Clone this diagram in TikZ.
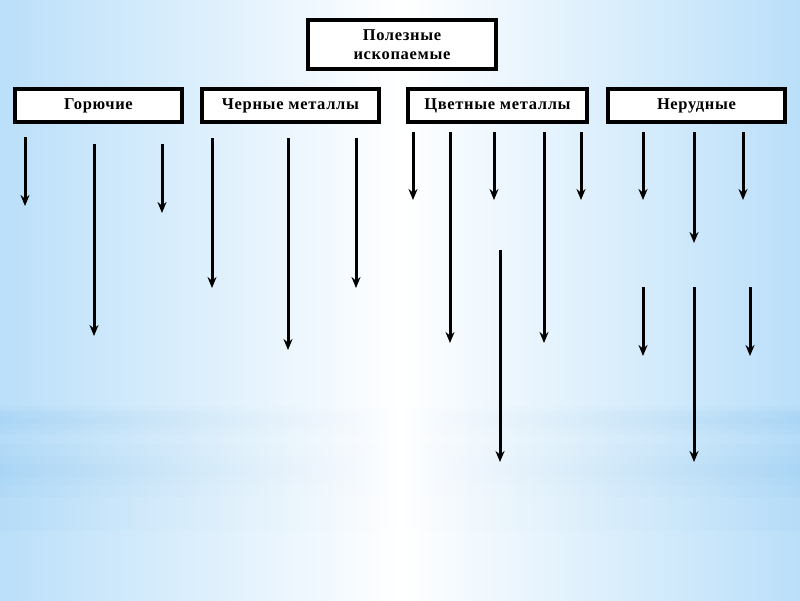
\documentclass[tikz,border=0pt]{standalone}
\usepackage{fontspec}
\setmainfont{Liberation Serif}[LetterSpace=4]
\usetikzlibrary{shadows,arrows.meta}
\definecolor{skyblue}{RGB}{186,223,249}
\definecolor{bandblue}{RGB}{150,203,243}
\begin{document}
\begin{tikzpicture}[x=1pt,y=-1pt,
  font=\fontsize{16.5}{18.5}\selectfont\bfseries,
  topbox/.style={draw,line width=3.2pt,fill=white,
    minimum width=188pt,minimum height=49pt,align=center,inner sep=0pt,
    drop shadow={shadow xshift=1.5pt,shadow yshift=-1.5pt,fill=black!60,opacity=1}},
  cat/.style={draw,line width=3.2pt,fill=white,
    minimum height=33pt,align=center,inner sep=0pt,
    drop shadow={shadow xshift=1.5pt,shadow yshift=-1.5pt,fill=black!60,opacity=1}},
  band/.style={left color=bandblue,right color=bandblue,middle color=white,opacity=.12},
  arr/.style={line width=3pt,-{Stealth[length=11pt,width=9pt]}}]
\useasboundingbox (0,0) rectangle (800,600);
% background
\shade[left color=skyblue,right color=skyblue,middle color=white] (0,0) rectangle (800,600);
\foreach \h in {3,8,14}{
  \shade[band] (0,420-\h) rectangle (800,420+\h);
}
\foreach \h in {6,14,26,60}{
  \shade[band] (0,470-\h) rectangle (800,470+\h);
}
% boxes
\node[topbox] (root) at (402,44.5) {Полезные\\ископаемые};
\node[cat,minimum width=167pt] (fuel) at (98.5,105.5) {Горючие};
\node[cat,minimum width=177pt] (ferrous) at (290.5,105.5) {Черные металлы};
\node[cat,minimum width=179pt] (nonferrous) at (497.5,105.5) {Цветные металлы};
\node[cat,minimum width=177pt] (nonmetal) at (696.5,105.5) {Нерудные};
% arrows
\foreach \x/\a/\b [count=\i] in {25/137/206, 94/144/336, 162/144/213,
    212/138/288, 288/138/350, 356/138/288,
    413/132/200, 450/132/343, 494/132/200, 544/132/343, 581/132/200, 500/250/462,
    643/132/200, 694/132/243, 743/132/200, 643/287/356, 694/287/462, 750/287/356}{
  \coordinate (s\i) at (\x,\a);
  \coordinate (e\i) at (\x,\b);
  \draw[arr] (s\i) -- (e\i);
}
\end{tikzpicture}
\end{document}
